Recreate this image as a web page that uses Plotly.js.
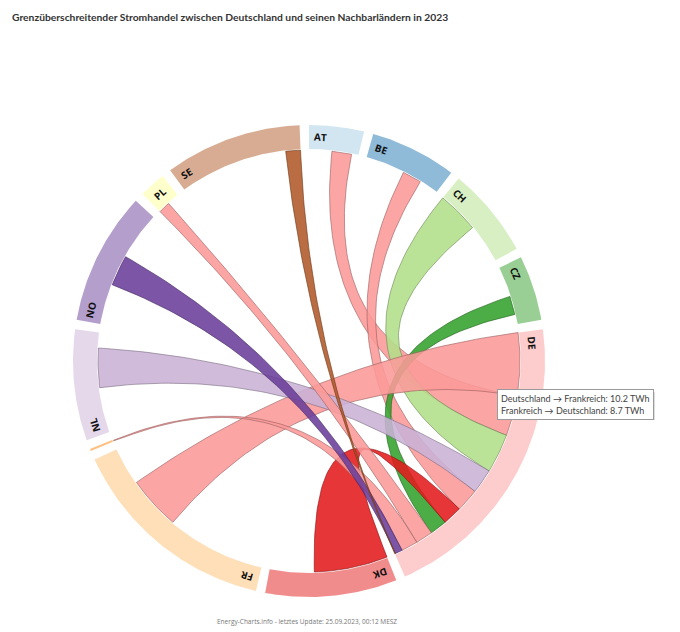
<!DOCTYPE html>
<html><head><meta charset="utf-8">
<script src="https://cdn.plot.ly/plotly-3.0.1.min.js"></script>
<style>html,body{margin:0;padding:0;background:#fff}#chart{width:680px;height:632px}</style>
</head><body><div id="chart"></div>
<script>
// Countries in chart order (clockwise from top)
const countries = ['AT','BE','CH','CZ','DE','DK','FR','LU','NL','NO','PL','SE'];
const countryNames = ['Österreich','Belgien','Schweiz','Tschechien','Deutschland','Dänemark','Frankreich','Luxemburg','Niederlande','Norwegen','Polen','Schweden'];
const colors = ['#a6cee3','#1f78b4','#b2df8a','#33a02c','#fb9a99','#e31a1c','#fdbf6f','#ff7f00','#cab2d6','#6a3d9a','#ffff99','#b15928'];

// Electricity exports in TWh (row = exporting country, columns in the order of `countries`)
const fromAT = [0, 0, 3.7, 1.1, 3.2, 0, 0, 0, 0, 0, 0, 0];
const fromBE = [0, 0, 0, 0, 3.1, 0, 6.4, 1.3, 1.8, 0, 0, 0];
const fromCH = [3.0, 0, 0, 0, 6.8, 0, 3.4, 0, 0, 0, 0, 0];
const fromCZ = [4.9, 0, 0, 0, 3.0, 0, 0, 0, 0, 0, 1.6, 0];
const fromDE = [6.6, 3.8, 6.4, 2.8, 0, 3.1, 10.2, 2.7, 4.0, 1.2, 2.8, 0.1];
const fromDK = [0, 0, 0, 0, 12.0, 0, 0, 0, 1.8, 2.2, 0, 3.2];
const fromFR = [0, 5.4, 16.1, 0, 8.7, 0, 0, 0.8, 0, 0, 0, 0];
const fromLU = [0, 0.1, 0, 0, 0.2, 0, 0, 0, 0, 0, 0, 0];
const fromNL = [0, 7.3, 0, 0, 6.4, 1.5, 0, 0, 0, 1.0, 0, 0];
const fromNO = [0, 0, 0, 0, 5.0, 3.6, 0, 0, 4.2, 0, 0, 6.6];
const fromPL = [0, 0, 0, 1.2, 1.9, 0, 0, 0, 0, 0, 0, 0.8];
const fromSE = [0, 0, 0, 0, 2.4, 7.1, 0, 0, 0, 6.4, 4.1, 0];

const matrix = [fromAT, fromBE, fromCH, fromCZ, fromDE, fromDK, fromFR, fromLU, fromNL, fromNO, fromPL, fromSE];
const hub = countries.indexOf('DE');
const tooltipPartner = 'FR';

const titleText = 'Grenzüberschreitender Stromhandel zwischen Deutschland und seinen Nachbarländern in 2023';
const footerText = 'Energy-Charts.info - letztes Update: 25.09.2023, 00:12 MESZ';

// ---- chord layout (like d3.chord with descending subgroup sort) ----
const n = countries.length;
const padAngle = 0.04;
const R_OUT = 236, R_IN = 212, R_CHORD = 211;
const rowSums = matrix.map(r => r.reduce((a, b) => a + b, 0));
const total = rowSums.reduce((a, b) => a + b, 0);
const k = (2 * Math.PI - padAngle * n) / total;
const groups = [];
const sub = [];
let pos = 0;
for (let i = 0; i < n; i++) {
  const x0 = pos;
  const order = [...Array(n).keys()].sort((a, b) => matrix[i][b] - matrix[i][a]);
  sub[i] = [];
  for (const j of order) { const a0 = pos; pos += matrix[i][j] * k; sub[i][j] = [a0, pos]; }
  groups.push([x0, pos]);
  pos += padAngle;
}

function P(r, a) { return [r * Math.sin(a), r * Math.cos(a)]; }
function rgba(hex, op) {
  const v = parseInt(hex.slice(1), 16);
  return `rgba(${v >> 16},${(v >> 8) & 255},${v & 255},${op})`;
}
function darker(hex, f) {
  const v = parseInt(hex.slice(1), 16);
  return `rgb(${Math.round((v >> 16) * f)},${Math.round(((v >> 8) & 255) * f)},${Math.round((v & 255) * f)})`;
}
function arc(xs, ys, r, a0, a1) {
  const steps = Math.max(2, Math.ceil(Math.abs(a1 - a0) / 0.01));
  for (let s = 0; s <= steps; s++) { const p = P(r, a0 + (a1 - a0) * s / steps); xs.push(p[0]); ys.push(p[1]); }
}
function quad(xs, ys, p0, p2) {
  const steps = 60;
  for (let s = 0; s <= steps; s++) {
    const t = s / steps;
    xs.push((1 - t) * (1 - t) * p0[0] + t * t * p2[0]);
    ys.push((1 - t) * (1 - t) * p0[1] + t * t * p2[1]);
  }
}

const traces = [];
// group rings
groups.forEach(([a0, a1], i) => {
  const xs = [], ys = [];
  arc(xs, ys, R_OUT, a0, a1);
  arc(xs, ys, R_IN, a1, a0);
  traces.push({x: xs, y: ys, mode: 'lines', fill: 'toself', fillcolor: rgba(colors[i], 0.5),
    line: {width: 0, color: 'rgba(0,0,0,0)'}, hoverinfo: 'skip', type: 'scatter'});
});
// chords between DE and neighbours
for (let j = 0; j < n; j++) {
  if (j === hub) continue;
  const i = Math.min(j, hub), jj = Math.max(j, hub);
  const s = sub[i][jj], t = sub[jj][i];
  const xs = [], ys = [];
  arc(xs, ys, R_CHORD, s[0], s[1]);
  quad(xs, ys, P(R_CHORD, s[1]), P(R_CHORD, t[0]));
  arc(xs, ys, R_CHORD, t[0], t[1]);
  quad(xs, ys, P(R_CHORD, t[1]), P(R_CHORD, s[0]));
  const ci = matrix[hub][j] >= matrix[j][hub] ? hub : j;
  traces.push({x: xs, y: ys, mode: 'lines', fill: 'toself', fillcolor: rgba(colors[ci], 0.88),
    line: {width: 0.6, color: darker(colors[ci], 0.6)}, hoverinfo: 'skip', type: 'scatter'});
}

const annotations = [];
groups.forEach(([a0, a1], i) => {
  const span = a1 - a0;
  if (span < 0.05) return;
  const a = a0 + 12 / ((R_IN + R_OUT) / 2);
  const p = P((R_IN + R_OUT) / 2, a);
  let deg = a * 180 / Math.PI;
  if (deg > 180) deg -= 360;
  annotations.push({x: p[0], y: p[1], xref: 'x', yref: 'y', text: '<b>' + countries[i] + '</b>', showarrow: false,
    textangle: deg, xanchor: 'center', yanchor: 'middle',
    font: {family: 'Open Sans, sans-serif', size: 10, color: '#111'}});
});

// hover tooltip for the DE–FR chord
const fi = countries.indexOf(tooltipPartner);
const tipText = `${countryNames[hub]} → ${countryNames[fi]}: ${matrix[hub][fi].toFixed(1)} TWh<br>${countryNames[fi]} → ${countryNames[hub]}: ${matrix[fi][hub].toFixed(1)} TWh`;
annotations.push({x: 188, y: -28, xref: 'x', yref: 'y', xanchor: 'left', yanchor: 'top', showarrow: false, align: 'left',
  text: tipText, bgcolor: '#ffffff', bordercolor: '#9a9a9a', borderwidth: 1, borderpad: 3,
  font: {family: 'Lato, sans-serif', size: 9, color: '#444'}});

annotations.push({x: 0.452, y: 11 / 632, xref: 'paper', yref: 'paper', xanchor: 'center', yanchor: 'middle', showarrow: false,
  text: footerText, font: {family: 'Open Sans, sans-serif', size: 6.5, color: '#777'}});

const layout = {
  width: 680, height: 632,
  margin: {l: 0, r: 0, t: 0, b: 0},
  paper_bgcolor: '#fff', plot_bgcolor: '#fff',
  showlegend: false, hovermode: false,
  title: {text: titleText, x: 12 / 680, xanchor: 'left', xref: 'container', y: 1 - 17 / 632, yanchor: 'middle', yref: 'container',
    font: {family: 'Lato, sans-serif', size: 10.3, color: '#333', weight: 'bold'}},
  xaxis: {range: [-309, 371], visible: false, fixedrange: true},
  yaxis: {range: [-271, 361], visible: false, fixedrange: true},
  shapes: [{type: 'rect', xref: 'x', yref: 'y', x0: 191, x1: 346, y0: -31, y1: -59, layer: 'above',
    fillcolor: 'rgba(0,0,0,0.13)', line: {width: 0}}],
  annotations: annotations
};
Plotly.newPlot('chart', traces, layout, {staticPlot: true, displayModeBar: false});
</script></body></html>
